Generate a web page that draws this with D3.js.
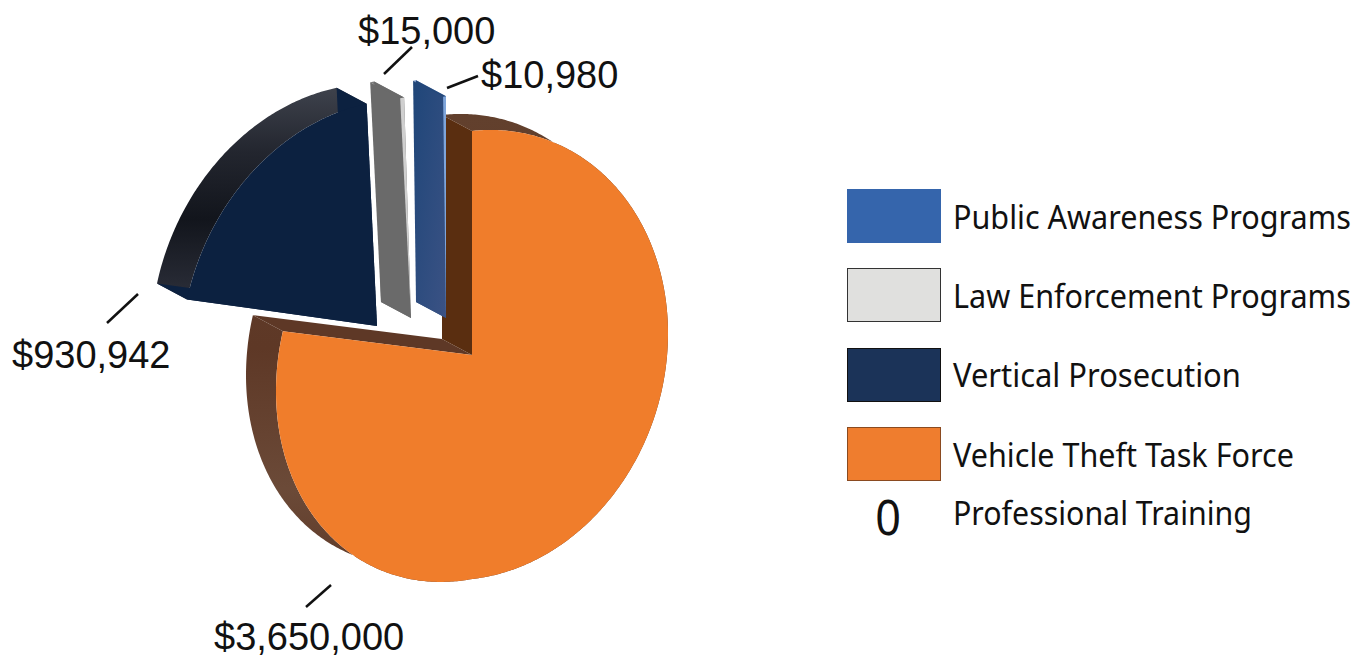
<!DOCTYPE html>
<html>
<head>
<meta charset="utf-8">
<script src="https://cdnjs.cloudflare.com/ajax/libs/d3/7.8.5/d3.min.js"></script>
<style>html,body{margin:0;padding:0;background:#fff;overflow:hidden}svg{display:block}</style>
</head>
<body>
<svg id="chart" width="1365" height="662"></svg>
<script>
// ---- data (pie order, clockwise from 12 o'clock)
const categories = ["Vehicle Theft Task Force", "Vertical Prosecution", "Law Enforcement Programs", "Public Awareness Programs", "Professional Training"];
const values = [3650000, 930942, 15000, 10980, 0];
const legendOrder = ["Public Awareness Programs", "Law Enforcement Programs", "Vertical Prosecution", "Vehicle Theft Task Force", "Professional Training"];

// ---- style and layout, keyed by category index
const frontColors = ["#f07d2b", "#0c2140", "#cfcfcf", "#7fa5da"];
const wallStartColors = ["#5a2e10", "#0c2140", "#6a6a6a", "url(#gBlueWall)"];
const wallEndColors = ["#5e3826", "#0c2140", "#6a6a6a", "#24487a"];
const rimColors = ["url(#gOrangeRim)", "url(#gNavyRim)", "#7a7a7a", "#6f8fc4"];
const explodeX = [0, -95, -61, -26];
const explodeY = [0, -29, -37, -37];
const turnDegrees = [0, -1, -1.17, 0];
const radiusScale = [1, 1, 0.99, 0.99];
const leftTilt = [-0.185, -0.15, -0.15, -0.15];

const legendSwatches = ["#3565ac", "#e0e0de", "#1b3358", "#ef7d2e"];
const legendStrokes = ["#3565ac", "#333333", "#111111", "#8a4a20"];

const cx = 472, cy = 355, rx = 196, ry = 224, rightTilt = -0.11;
const depthX = -30, depthY = -16;

const svg = d3.select("#chart");
const defs = svg.append("defs");
function grad(id, x1, y1, x2, y2, stops) {
  const g = defs.append("linearGradient").attr("id", id)
    .attr("x1", x1).attr("y1", y1).attr("x2", x2).attr("y2", y2);
  stops.forEach(s => g.append("stop").attr("offset", s[0]).attr("stop-color", s[1]));
}
grad("gOrangeRim", 0, 0, 0, 1, [[0, "#62402d"], [0.5, "#5e3826"], [0.8, "#6b4a38"], [1, "#5e3826"]]);
grad("gNavyRim", 0, 0, 0, 1, [[0, "#3e424c"], [0.3, "#23262f"], [0.62, "#12151c"], [1, "#2c2f3a"]]);
grad("gBlueWall", 0, 0, 1, 1, [[0, "#1f4679"], [1, "#3b5284"]]);

const pie = d3.pie().sort(null).value(d => d);
const arcs = pie(values);

const line = d3.line().x(d => d[0]).y(d => d[1]);
function project(theta, r, ox, oy, lt) {
  const sx = rx * r * Math.sin(theta), sy = -ry * r * Math.cos(theta);
  return [cx + ox + sx, cy + oy + sy + (sx < 0 ? lt : rightTilt) * sx];
}
function closed(pts) { return line(pts) + "Z"; }

arcs.forEach((a, i) => {
  if (a.value === 0) return;
  const turn = turnDegrees[i] * Math.PI / 180;
  const a0 = a.startAngle + turn, a1 = a.endAngle + turn;
  const ox = explodeX[i], oy = explodeY[i], r = radiusScale[i], lt = leftTilt[i];
  const n = Math.max(2, Math.ceil((a1 - a0) / 0.01));
  const thetas = d3.range(n + 1).map(k => a0 + (a1 - a0) * k / n);
  const front = thetas.map(t => project(t, r, ox, oy, lt));
  const back = thetas.map(t => project(t, r, ox + depthX, oy + depthY, lt));
  const apex = [cx + ox, cy + oy];
  const apexBack = [apex[0] + depthX, apex[1] + depthY];
  const g = svg.append("g").attr("class", "slice");
  g.append("path").attr("d", closed(front.concat(back.slice().reverse()))).attr("fill", rimColors[i]);
  g.append("path").attr("d", closed([apex, front[n], back[n], apexBack])).attr("fill", wallEndColors[i]);
  g.append("path").attr("d", closed([apex, front[0], back[0], apexBack])).attr("fill", wallStartColors[i]);
  g.append("path").attr("d", closed([apex].concat(front))).attr("fill", frontColors[i]);
});

// value labels and leaders
const money = d3.format("$,");
const labelX = [214, 12, 358, 481];
const labelY = [650, 368, 44, 88];
const leaderA = [[306, 607], [107, 323], [384, 74], [447, 88]];
const leaderB = [[331, 585], [138, 294], [412, 47], [478, 76]];
values.forEach((v, i) => {
  if (v === 0) return;
  svg.append("line").attr("x1", leaderA[i][0]).attr("y1", leaderA[i][1])
    .attr("x2", leaderB[i][0]).attr("y2", leaderB[i][1])
    .attr("stroke", "#111").attr("stroke-width", 2.5);
  svg.append("text").attr("x", labelX[i]).attr("y", labelY[i])
    .attr("font-family", "'Liberation Sans'").attr("font-size", 38).attr("fill", "#111")
    .text(money(v));
});

// legend
const legendBaseline = [229, 308, 387, 467, 525];
const legendTop = [189, 268, 348, 427];
const legendWidth = [398, 398, 288, 341, 299];
legendOrder.forEach((name, i) => {
  if (i < 4) {
    svg.append("rect").attr("x", 847.5).attr("y", legendTop[i] + 0.5).attr("width", 93).attr("height", 53)
      .attr("fill", legendSwatches[i]).attr("stroke", legendStrokes[i]).attr("stroke-width", 1);
  } else {
    const v = values[categories.indexOf(name)];
    svg.append("text").attr("transform", "translate(888,535) scale(0.9,1)").attr("text-anchor", "middle")
      .attr("font-family", "'Noto Sans'").attr("font-size", 50).attr("fill", "#111").text(v);
  }
  const label = svg.append("text")
    .attr("font-family", "'Noto Sans'").attr("font-size", 33).attr("fill", "#111")
    .text(name);
  const squeeze = legendWidth[i] / label.node().getComputedTextLength();
  label.attr("transform", `translate(953,${legendBaseline[i]}) scale(${squeeze},1)`);
});
</script>
</body>
</html>
